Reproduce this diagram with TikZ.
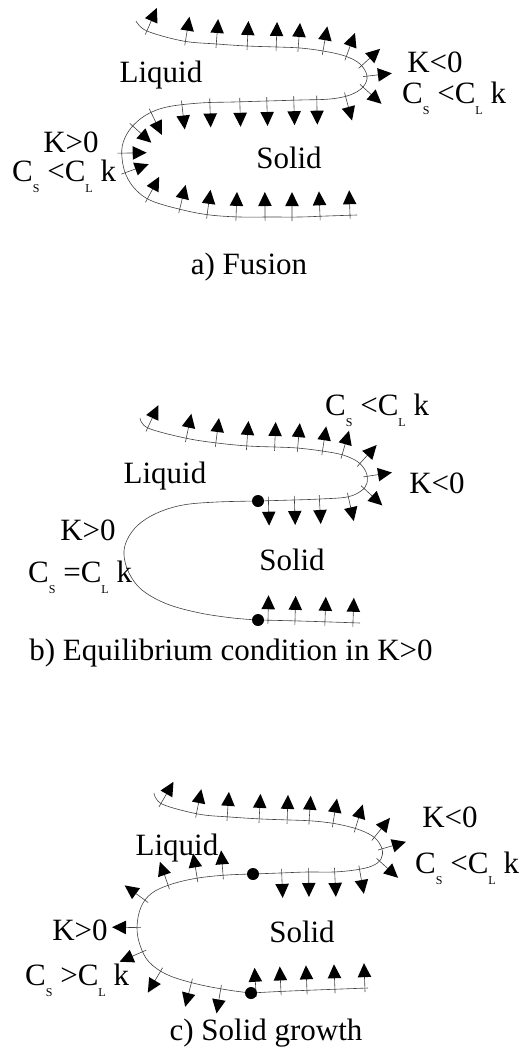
\documentclass[tikz,border=0pt]{standalone}
\usepackage{fontspec}
\setmainfont{Liberation Serif}
\usetikzlibrary{decorations.markings}

\newcommand{\lowsub}[1]{\raisebox{-11pt}{\fontsize{12}{12}\selectfont #1}}
% one normal arrow, #1 = 1 (left of path) or -1 (right of path)
\newcommand{\normarrow}[1]{%
    \draw[line width=0.6pt] (0pt,-4pt*#1) -- (0pt,13pt*#1);
    \fill (-6.8pt,11pt*#1) -- (6.8pt,11pt*#1) -- (0pt,25pt*#1) -- cycle;}

\pgfkeys{
    /pgf/decoration/arrL/.style={mark=at position #1 with {\normarrow{1}}},
    /pgf/decoration/arrR/.style={mark=at position #1 with {\normarrow{-1}}}
}

\begin{document}
\begin{tikzpicture}[
    x=1pt, y=-1pt,
    every node/.style={
        font=\fontsize{31}{36}\selectfont,
        inner sep=0pt
    },
    front/.style={
        line width=0.6pt,
        draw=black!75
    },
    arrowsleft/.style={
        postaction={decorate, decoration={markings, arrL/.list={#1}}}
    },
    arrowsright/.style={
        postaction={decorate, decoration={markings, arrR/.list={#1}}}
    },
    dot/.style={fill=black}
]
\useasboundingbox (0,0) rectangle (531,1047);

% a) Fusion
\draw[front, arrowsleft={15pt,55pt,86pt,117pt,146pt,168pt,193pt,217pt,
        235pt,247pt,259pt,279pt,308pt,331pt,358pt,385pt,415pt,443pt,
        475pt,498pt,528pt,548pt,583pt,
        617pt,645pt,674pt,703pt,730pt,758pt,788pt}]
    plot[smooth, tension=0.6] coordinates {
    (136,21) (147,31) (183,41) (217,44) (247,46) (277,47) (300,48) (323,51)
    (345,56) (360,64) (367,76) (363,87) (350,95) (330,99) (300,100) (267,101)
    (233,102) (200,103) (167,107) (146,115) (131,128) (123,143) (122,158)
    (126,175) (136,190) (152,201) (183,210) (210,215) (240,217) (270,217)
    (300,217) (327,216) (357,215)};

\node[anchor=base] (liqA) at (161,82) {Liquid};
\node[anchor=base] (solA) at (289,168) {Solid};
\node[anchor=base] (knegA) at (435,72) {K<0};
\node[anchor=base west] (condnegA) at (402,103) {C\lowsub{S} <C\lowsub{L} k};
\node[anchor=base] (kposA) at (71,152) {K>0};
\node[anchor=base west] (condposA) at (12,181) {C\lowsub{S} <C\lowsub{L} k};
\node[anchor=base] (capA) at (249,274) {a) Fusion};

% b) Equilibrium
\coordinate (dotB1) at (258,501);
\coordinate (dotB2) at (258,620);

\draw[front, arrowsleft={13pt,53pt,83pt,114pt,142pt,165pt,190pt,210pt,
        230pt,245pt,258pt,276pt,305pt,330pt,356pt}]
    plot[smooth, tension=0.6] coordinates {
    (140,418) (148,428) (185,438) (217,443) (248,446) (275,447) (297,448)
    (322,451) (343,455) (358,462) (366,472) (367,483) (361,491) (347,497)
    (320,499) (293,500) (dotB1)};
\draw[front]
    plot[smooth, tension=0.6] coordinates {
    (dotB1) (217,502) (183,505) (157,513) (138,525) (127,540) (124,555)
    (129,573) (142,590) (167,604) (200,613) (233,618) (dotB2)};
\draw[front, arrowsleft={10pt,37pt,67pt,95pt}]
    plot[smooth, tension=0.6] coordinates {(dotB2) (300,621) (360,623)};
\fill[dot] (dotB1) circle (6pt);
\fill[dot] (dotB2) circle (6pt);

\node[anchor=base west] (condB) at (325,415) {C\lowsub{S} <C\lowsub{L} k};
\node[anchor=base] (liqB) at (165,483) {Liquid};
\node[anchor=base] (knegB) at (437,493) {K<0};
\node[anchor=base] (kposB) at (88,540) {K>0};
\node[anchor=base west] (eqB) at (28,582) {C\lowsub{S} =C\lowsub{L} k};
\node[anchor=base] (solB) at (292,570) {Solid};
\node[anchor=base] (capB) at (231,660) {b) Equilibrium condition in K>0};

% c) Solid growth
\coordinate (dotC1) at (253,874);
\coordinate (dotC2) at (251,993);

\draw[front, arrowsleft={13pt,50pt,81pt,113pt,141pt,163pt,187pt,210pt,
        231pt,245pt,258pt,280pt,305pt,331pt,358pt}]
    plot[smooth, tension=0.6] coordinates {
    (154,793) (162,804) (198,814) (230,817) (262,819) (290,820) (313,821)
    (337,824) (360,830) (375,838) (382,849) (381,859) (372,866) (355,870)
    (333,872) (307,872) (280,873) (dotC1)};
\draw[front, arrowsright={30pt,56pt,86pt,114pt,143pt,168pt,195pt,228pt,258pt}]
    plot[smooth, tension=0.6] coordinates {
    (dotC1) (227,875) (198,878) (172,884) (152,893) (141,907) (137,927)
    (140,945) (149,962) (168,975) (197,984) (228,990) (dotC2)};
\draw[front, arrowsleft={5pt,30pt,56pt,84pt,114pt}]
    plot[smooth, tension=0.6] coordinates {(dotC2) (290,991) (368,988)};
\fill[dot] (dotC1) circle (6pt);
\fill[dot] (dotC2) circle (6pt);

\node[anchor=base] (knegC) at (450,827) {K<0};
\node[anchor=base west] (condnegC) at (415,873) {C\lowsub{S} <C\lowsub{L} k};
\node[anchor=base] (liqC) at (177,855) {Liquid};
\node[anchor=base] (kposC) at (80,940) {K>0};
\node[anchor=base west] (condposC) at (25,985) {C\lowsub{S} >C\lowsub{L} k};
\node[anchor=base] (solC) at (302,942) {Solid};
\node[anchor=base] (capC) at (266,1040) {c) Solid growth};

\end{tikzpicture}
\end{document}
